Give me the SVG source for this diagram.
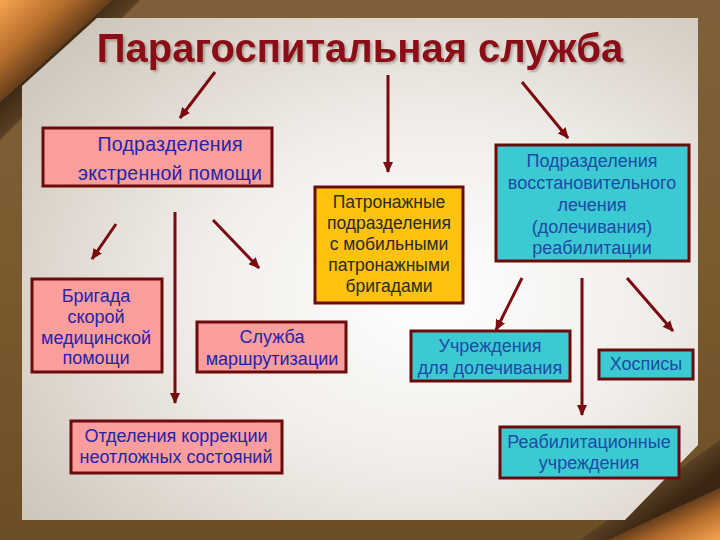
<svg xmlns="http://www.w3.org/2000/svg" width="720" height="540" viewBox="0 0 720 540">
<defs>
  <linearGradient id="frame" x1="0" y1="0" x2="0" y2="1">
    <stop offset="0" stop-color="#80603a"/>
    <stop offset="0.5" stop-color="#7a5a2e"/>
    <stop offset="1" stop-color="#6b4d26"/>
  </linearGradient>
  <radialGradient id="panel" cx="0.6" cy="0.55" r="0.75">
    <stop offset="0" stop-color="#ffffff"/>
    <stop offset="0.45" stop-color="#f1eeea"/>
    <stop offset="1" stop-color="#cec5b9"/>
  </radialGradient>
  <linearGradient id="curlTL" x1="0" y1="0" x2="0.6" y2="0.6">
    <stop offset="0" stop-color="#f7a550"/>
    <stop offset="0.5" stop-color="#b56d2c"/>
    <stop offset="1" stop-color="#3d2612"/>
  </linearGradient>
  <linearGradient id="curlBR" x1="1" y1="1" x2="0.4" y2="0.4">
    <stop offset="0" stop-color="#f7a550"/>
    <stop offset="0.5" stop-color="#b56d2c"/>
    <stop offset="1" stop-color="#3d2612"/>
  </linearGradient>
  <linearGradient id="shadeTL" x1="0.35" y1="0.35" x2="0.6" y2="0.6">
    <stop offset="0" stop-color="#3a2612"/>
    <stop offset="1" stop-color="#6e5230"/>
  </linearGradient>
  <linearGradient id="shadeBR" x1="0.65" y1="0.65" x2="0.4" y2="0.4">
    <stop offset="0" stop-color="#3a2612"/>
    <stop offset="1" stop-color="#6e5230"/>
  </linearGradient>
  <filter id="tshadow" x="-5%" y="-20%" width="110%" height="150%">
    <feDropShadow dx="2" dy="2" stdDeviation="1" flood-color="#000" flood-opacity="0.25"/>
  </filter>
  <marker id="ah" markerUnits="userSpaceOnUse" markerWidth="11" markerHeight="10" refX="10" refY="5" orient="auto">
    <path d="M0,0 L11,5 L0,10 z" fill="#7a0a0f"/>
  </marker>
  <style>
    .box { stroke: #6b0b0b; stroke-width: 3; }
    .pink { fill: #fa9d9d; }
    .cyan { fill: #3ccad2; }
    .yellow { fill: #ffc20e; }
    .t { font-family: "Liberation Sans", Arial, sans-serif; text-anchor: middle; }
    .tp { fill: #2424a8; font-size: 18px; }
    .tc { fill: #1d4aa6; font-size: 18px; }
    .ty { fill: #2a2a2a; font-size: 17.5px; }
    .big { font-size: 19.5px; }
    .conn line { stroke: #7a0a0f; stroke-width: 3; marker-end: url(#ah); }
  </style>
</defs>

<!-- background -->
<rect x="0" y="0" width="720" height="540" fill="url(#frame)"/>
<polygon points="112,0 0,102 0,140 140,0" fill="url(#shadeTL)"/>
<polygon points="720,488 608,540 580,540 720,440" fill="url(#shadeBR)"/>
<polygon points="97,18 698,18 698,445 625,520 22,520 22,86" fill="url(#panel)"/>
<polygon points="0,0 112,0 0,102" fill="url(#curlTL)"/>
<polygon points="720,488 720,540 608,540" fill="url(#curlBR)"/>

<!-- title -->
<text id="title" class="t" x="360" y="62" font-size="40" font-weight="bold" fill="#8b0a14" filter="url(#tshadow)">Парагоспитальная служба</text>

<!-- connectors -->
<g id="connectors" class="conn">
  <line x1="215" y1="72" x2="180" y2="118"/>
  <line x1="388" y1="75" x2="388" y2="172"/>
  <line x1="522" y1="82" x2="568" y2="138"/>
  <line x1="116" y1="224" x2="92" y2="259"/>
  <line x1="175" y1="212" x2="175" y2="403"/>
  <line x1="213" y1="220" x2="259" y2="268"/>
  <line x1="522" y1="278" x2="496" y2="330"/>
  <line x1="582" y1="278" x2="582" y2="415"/>
  <line x1="627" y1="278" x2="673" y2="331"/>
</g>

<!-- nodes -->
<g id="emergency">
  <rect class="box pink" x="43" y="128" width="229" height="58"/>
  <text class="t tp big" x="170" y="151" textLength="145" lengthAdjust="spacing">Подразделения</text>
  <text class="t tp big" x="170" y="180" textLength="184" lengthAdjust="spacing">экстренной помощи</text>
</g>

<g id="ambulance">
  <rect class="box pink" x="32" y="279" width="130" height="93"/>
  <text class="t tp" x="96" y="302">Бригада</text>
  <text class="t tp" x="96" y="323">скорой</text>
  <text class="t tp" x="96" y="344">медицинской</text>
  <text class="t tp" x="96" y="364">помощи</text>
</g>

<g id="routing">
  <rect class="box pink" x="197" y="322" width="149" height="50"/>
  <text class="t tp" x="272" y="343">Служба</text>
  <text class="t tp" x="272" y="365">маршрутизации</text>
</g>

<g id="correction">
  <rect class="box pink" x="71" y="421" width="211" height="52"/>
  <text class="t tp" x="176" y="442">Отделения коррекции</text>
  <text class="t tp" x="176" y="463">неотложных состояний</text>
</g>

<g id="patronage">
  <rect class="box yellow" x="315" y="187" width="148" height="116"/>
  <text class="t ty" x="389" y="208">Патронажные</text>
  <text class="t ty" x="389" y="229">подразделения</text>
  <text class="t ty" x="389" y="250">с мобильными</text>
  <text class="t ty" x="389" y="271">патронажными</text>
  <text class="t ty" x="389" y="292">бригадами</text>
</g>

<g id="rehab-units">
  <rect class="box cyan" x="496" y="145" width="193" height="116"/>
  <text class="t tc" x="592" y="167">Подразделения</text>
  <text class="t tc" x="592" y="189">восстановительного</text>
  <text class="t tc" x="592" y="211">лечения</text>
  <text class="t tc" x="592" y="233">(долечивания)</text>
  <text class="t tc" x="592" y="254">реабилитации</text>
</g>

<g id="aftercare">
  <rect class="box cyan" x="411" y="331" width="159" height="50"/>
  <text class="t tc" x="490" y="352">Учреждения</text>
  <text class="t tc" x="490" y="374">для долечивания</text>
</g>

<g id="hospices">
  <rect class="box cyan" x="599" y="350" width="94" height="29"/>
  <text class="t tc" x="646" y="370">Хосписы</text>
</g>

<g id="rehab-institutions">
  <rect class="box cyan" x="500" y="427" width="179" height="51"/>
  <text class="t tc" x="589" y="448">Реабилитационные</text>
  <text class="t tc" x="589" y="469">учреждения</text>
</g>
</svg>
